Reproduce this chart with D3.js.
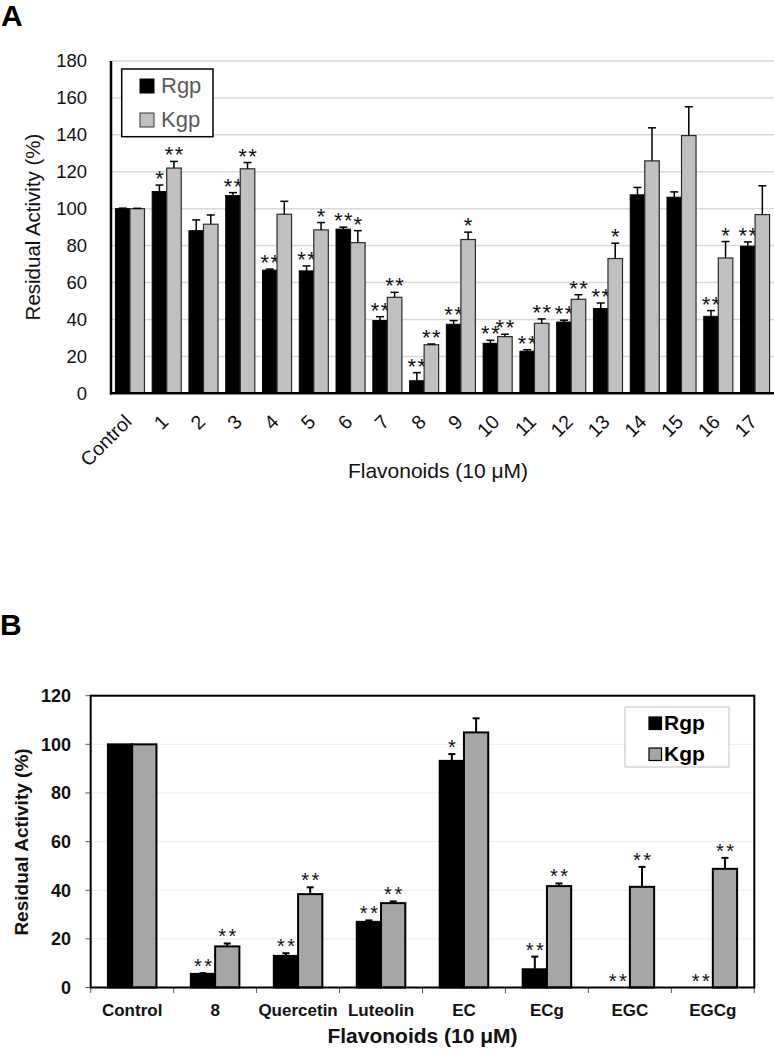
<!DOCTYPE html>
<html>
<head>
<meta charset="utf-8">
<script src="https://cdn.jsdelivr.net/npm/d3@7"></script>
<style>
  html, body { margin: 0; padding: 0; background: #fff; }
  svg { display: block; font-family: "Liberation Sans", Arial, sans-serif; }
</style>
</head>
<body>
<svg id="chart" width="774" height="1050"></svg>
<script>
// ---------- Panel A data ----------
const catsA = ["Control","1","2","3","4","5","6","7","8","9","10","11","12","13","14","15","16","17"];
const rgpA    = [100, 109.3, 88.1, 107.1, 66.7, 66.3, 88.9, 39.4, 6.8, 37.4, 27.1, 22.8, 38.6, 45.9, 107.5, 106.2, 41.7, 79.7];
const kgpA    = [100, 122.0, 91.6, 121.6, 97.0, 88.5, 81.6, 52.0, 26.3, 83.3, 30.7, 37.9, 50.9, 73.0, 125.9, 139.6, 73.3, 96.8];
const rgpErrA = [0.3, 3.5, 5.8, 1.6, 0.6, 2.7, 1.1, 2.1, 4.4, 2.0, 1.6, 0.8, 1.0, 3.0, 4.0, 2.9, 3.1, 2.3];
const kgpErrA = [0.2, 3.6, 5.0, 3.4, 7.0, 4.0, 6.5, 2.7, 0.4, 4.0, 1.3, 2.4, 2.5, 8.3, 17.9, 15.6, 8.9, 15.6];
const rgpSigA = ["","*","","**","**","**","**","**","**","**","**","**","**","**","","","**","**"];
const kgpSigA = ["","**","","**","","*","*","**","**","*","**","**","**","*","","","*",""];
const ticksA  = [0,20,40,60,80,100,120,140,160,180];

// ---------- Panel B data ----------
const catsB = ["Control","8","Quercetin","Luteolin","EC","ECg","EGC","EGCg"];
const rgpB    = [100, 5.6, 13.0, 27.0, 93.2, 7.5, 0, 0];
const kgpB    = [100, 16.9, 38.4, 34.7, 104.9, 41.7, 41.4, 48.8];
const rgpErrB = [0, 0.3, 1.1, 0.6, 2.8, 5.2, 0, 0];
const kgpErrB = [0, 1.2, 2.8, 0.7, 5.8, 1.1, 8.2, 4.5];
const rgpSigB = ["","**","**","**","*","**","**","**"];
const kgpSigB = ["","**","**","**","","**","**","**"];
const ticksB  = [0,20,40,60,80,100,120];

const series = ["Rgp","Kgp"];
const svg = d3.select("#chart");

// ================= PANEL A =================
const gA = svg.append("g");
const xA = d3.scaleBand().domain(catsA).range([111, 774]).paddingInner(0.21).paddingOuter(0.12);
const xSubA = d3.scaleBand().domain(series).range([0, xA.bandwidth()]);
const yA = d3.scaleLinear().domain([0, 180]).range([393.3, 61]);

gA.append("text").attr("x", 1).attr("y", 26).attr("font-size", 30).attr("font-weight", "bold").text("A");

// gridlines
gA.selectAll("line.grid").data(ticksA.filter(t => t > 0)).join("line")
  .attr("x1", 111).attr("x2", 774)
  .attr("y1", d => yA(d)).attr("y2", d => yA(d))
  .attr("stroke", "#d9d9d9").attr("stroke-width", 1.5);

// y tick labels
gA.selectAll("text.ytick").data(ticksA).join("text")
  .attr("x", 87).attr("y", d => yA(d)).attr("dy", "0.35em")
  .attr("text-anchor", "end").attr("font-size", 18.5).attr("fill", "#111")
  .text(d => d);

function drawBars(g, cats, xs, xsub, ys, vals, errs, sigs, key, fill, stroke, sw, capW, ew, starFont, starDy, ls) {
  const data = cats.map((c, i) => ({c, v: vals[i], e: errs[i], s: sigs[i]}));
  g.selectAll("rect.bar-" + key).data(data).join("rect")
    .attr("x", d => xs(d.c) + xsub(key))
    .attr("y", d => ys(d.v))
    .attr("width", xsub.bandwidth())
    .attr("height", d => ys(0) - ys(d.v))
    .attr("fill", fill).attr("stroke", stroke).attr("stroke-width", sw);
  const ed = data.filter(d => d.e > 0);
  g.selectAll("line.err-" + key).data(ed).join("line")
    .attr("x1", d => xs(d.c) + xsub(key) + xsub.bandwidth() / 2)
    .attr("x2", d => xs(d.c) + xsub(key) + xsub.bandwidth() / 2)
    .attr("y1", d => ys(d.v)).attr("y2", d => ys(d.v + d.e))
    .attr("stroke", "#000").attr("stroke-width", ew);
  g.selectAll("line.cap-" + key).data(ed).join("line")
    .attr("x1", d => xs(d.c) + xsub(key) + xsub.bandwidth() / 2 - capW / 2)
    .attr("x2", d => xs(d.c) + xsub(key) + xsub.bandwidth() / 2 + capW / 2)
    .attr("y1", d => ys(d.v + d.e)).attr("y2", d => ys(d.v + d.e))
    .attr("stroke", "#000").attr("stroke-width", ew);
  g.selectAll("text.sig-" + key).data(data.filter(d => d.s)).join("text")
    .attr("x", d => xs(d.c) + xsub(key) + xsub.bandwidth() / 2 + ls / 2)
    .attr("y", d => ys(d.v + d.e) + starDy)
    .attr("text-anchor", "middle").attr("font-size", starFont)
    .attr("letter-spacing", ls).attr("fill", "#111")
    .text(d => d.s);
}

drawBars(gA, catsA, xA, xSubA, yA, rgpA, rgpErrA, rgpSigA, "Rgp", "#000", "#000", 1, 8, 1.5, 22, 1, 1.5);
drawBars(gA, catsA, xA, xSubA, yA, kgpA, kgpErrA, kgpSigA, "Kgp", "#c0c0c0", "#2a2a2a", 1.2, 8, 1.5, 22, 1, 1.5);

// axes lines
gA.append("line").attr("x1", 111).attr("x2", 111).attr("y1", yA(180)).attr("y2", yA(0) + 1.2)
  .attr("stroke", "#000").attr("stroke-width", 2.5);
gA.append("line").attr("x1", 110).attr("x2", 774).attr("y1", yA(0)).attr("y2", yA(0))
  .attr("stroke", "#000").attr("stroke-width", 2.5);

// x tick labels rotated
gA.selectAll("text.xtick").data(catsA).join("text")
  .attr("text-anchor", "end").attr("font-size", 19.5).attr("fill", "#111")
  .attr("transform", d => `translate(${xA(d) + xA.bandwidth() / 2 + 3},${423}) rotate(-45)`)
  .text(d => d);

// axis titles
gA.append("text").attr("x", 438).attr("y", 478).attr("text-anchor", "middle")
  .attr("font-size", 21).attr("fill", "#111").text("Flavonoids (10 μM)");
gA.append("text").attr("transform", "translate(40,227) rotate(-90)").attr("text-anchor", "middle")
  .attr("font-size", 20.5).attr("fill", "#111").text("Residual Activity (%)");

// legend A
gA.append("rect").attr("x", 121.7).attr("y", 69).attr("width", 91.3).attr("height", 67.7)
  .attr("fill", "#fff").attr("stroke", "#000").attr("stroke-width", 1.5);
const legA = [{k: "Rgp", fill: "#000", stroke: "#000"}, {k: "Kgp", fill: "#c0c0c0", stroke: "#333"}];
legA.forEach((l, i) => {
  gA.append("rect").attr("x", 140).attr("y", 79 + i * 34).attr("width", 14).attr("height", 14)
    .attr("fill", l.fill).attr("stroke", l.stroke).attr("stroke-width", 1);
  gA.append("text").attr("x", 161).attr("y", 93 + i * 34).attr("font-size", 22)
    .attr("fill", "#595959").text(l.k);
});

// ================= PANEL B =================
const gB = svg.append("g");
const xB = d3.scaleBand().domain(catsB).range([90.7, 754.3]).paddingInner(0.415).paddingOuter(0.2075);
const xSubB = d3.scaleBand().domain(series).range([0, xB.bandwidth()]);
const yB = d3.scaleLinear().domain([0, 120]).range([987.5, 695.7]);

gB.append("text").attr("x", 0).attr("y", 635).attr("font-size", 30).attr("font-weight", "bold").text("B");

// gridlines
gB.selectAll("line.grid").data(ticksB.filter(t => t > 0 && t < 120)).join("line")
  .attr("x1", 90.7).attr("x2", 754.3)
  .attr("y1", d => yB(d)).attr("y2", d => yB(d))
  .attr("stroke", "#ececec").attr("stroke-width", 1);

// y ticks (outward)
gB.selectAll("line.ytk").data(ticksB).join("line")
  .attr("x1", 85.5).attr("x2", 90.7).attr("y1", d => yB(d)).attr("y2", d => yB(d))
  .attr("stroke", "#555").attr("stroke-width", 1);
gB.selectAll("text.ytick").data(ticksB).join("text")
  .attr("x", 71).attr("y", d => yB(d)).attr("dy", "0.36em")
  .attr("text-anchor", "end").attr("font-size", 18).attr("font-weight", "bold").attr("fill", "#111")
  .text(d => d);

// x ticks at band boundaries
const boundsB = d3.range(catsB.length + 1).map(i => xB.range()[0] + i * xB.step());
gB.selectAll("line.xtk").data(boundsB).join("line")
  .attr("x1", d => d).attr("x2", d => d).attr("y1", yB(0)).attr("y2", yB(0) + 5.5)
  .attr("stroke", "#555").attr("stroke-width", 1);

drawBars(gB, catsB, xB, xSubB, yB, rgpB, rgpErrB, rgpSigB, "Rgp", "#000", "#000", 2, 7, 2, 20, 0, 2.5);
drawBars(gB, catsB, xB, xSubB, yB, kgpB, kgpErrB, kgpSigB, "Kgp", "#a6a6a6", "#000", 2, 7, 2, 20, 0, 2.5);

// plot frame
gB.append("rect").attr("x", 90.7).attr("y", yB(120)).attr("width", 754.3 - 90.7).attr("height", yB(0) - yB(120))
  .attr("fill", "none").attr("stroke", "#000").attr("stroke-width", 2);

// x tick labels
gB.selectAll("text.xtick").data(catsB).join("text")
  .attr("x", d => xB(d) + xB.bandwidth() / 2).attr("y", 1016)
  .attr("text-anchor", "middle").attr("font-size", 17).attr("font-weight", "bold").attr("fill", "#111")
  .text(d => d);

gB.append("text").attr("x", 422.5).attr("y", 1043).attr("text-anchor", "middle")
  .attr("font-size", 21).attr("font-weight", "bold").attr("fill", "#111").text("Flavonoids (10 μM)");
gB.append("text").attr("transform", "translate(28,842) rotate(-90)").attr("text-anchor", "middle")
  .attr("font-size", 19).attr("font-weight", "bold").attr("fill", "#111").text("Residual Activity (%)");

// legend B
gB.append("rect").attr("x", 625).attr("y", 707).attr("width", 104).attr("height", 60)
  .attr("fill", "#fff").attr("stroke", "#c0c0c0").attr("stroke-width", 1);
const legB = [{k: "Rgp", fill: "#000"}, {k: "Kgp", fill: "#a6a6a6"}];
legB.forEach((l, i) => {
  gB.append("rect").attr("x", 649).attr("y", 717 + i * 31).attr("width", 12.5).attr("height", 12.5)
    .attr("fill", l.fill).attr("stroke", "#000").attr("stroke-width", 1.2);
  gB.append("text").attr("x", 664).attr("y", 730 + i * 31).attr("font-size", 21)
    .attr("font-weight", "bold").attr("fill", "#000").text(l.k);
});
</script>
</body>
</html>
